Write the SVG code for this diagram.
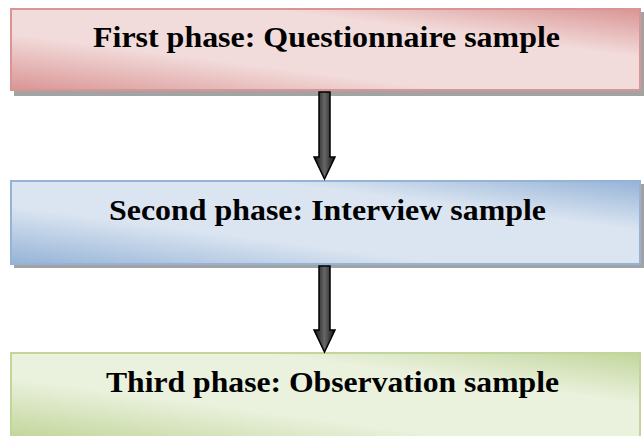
<svg xmlns="http://www.w3.org/2000/svg" width="644" height="436" viewBox="0 0 644 436">
<defs>
<linearGradient id="gPink" x1="0" y1="1" x2="1" y2="0">
<stop offset="0" stop-color="#d99594"/><stop offset="0.35" stop-color="#f2dcdb"/><stop offset="0.7" stop-color="#f2dcdb"/><stop offset="1" stop-color="#d99594"/>
</linearGradient>
<linearGradient id="gBlue" x1="0" y1="1" x2="1" y2="0">
<stop offset="0" stop-color="#95b3d7"/><stop offset="0.35" stop-color="#dbe5f1"/><stop offset="0.7" stop-color="#dbe5f1"/><stop offset="1" stop-color="#95b3d7"/>
</linearGradient>
<linearGradient id="gGreen" x1="0" y1="1" x2="1" y2="0">
<stop offset="0" stop-color="#c2d69b"/><stop offset="0.35" stop-color="#eaf1dd"/><stop offset="0.7" stop-color="#eaf1dd"/><stop offset="1" stop-color="#c2d69b"/>
</linearGradient>
<linearGradient id="gArrow" x1="0" y1="0" x2="1" y2="0">
<stop offset="0" stop-color="#111"/><stop offset="0.5" stop-color="#666"/><stop offset="1" stop-color="#111"/>
</linearGradient>
</defs>
<style>
.shadow{fill:#8c8c8c;opacity:0.8}
.label{font-family:"Liberation Serif","Times New Roman",serif;font-weight:bold;font-size:30px;fill:#000}
.arrow{fill:url(#gArrow);stroke:#000;stroke-width:1.5}
</style>
<g id="node1">
<rect class="shadow" x="14" y="12" width="630" height="84"/>
<rect x="11" y="9" width="629" height="81" fill="url(#gPink)" stroke="#d99594" stroke-width="2"/>
<text class="label" x="93" y="47" textLength="467" lengthAdjust="spacingAndGlyphs">First phase: Questionnaire sample</text>
</g>
<g id="node2">
<rect class="shadow" x="14" y="184" width="630" height="84"/>
<rect x="11" y="181" width="629" height="83" fill="url(#gBlue)" stroke="#95b3d7" stroke-width="2"/>
<text class="label" x="109" y="220" textLength="437" lengthAdjust="spacingAndGlyphs">Second phase: Interview sample</text>
</g>
<g id="node3">
<rect x="11" y="353" width="629" height="84" fill="url(#gGreen)" stroke="#c2d69b" stroke-width="2"/>
<text class="label" x="106" y="392" textLength="453" lengthAdjust="spacingAndGlyphs">Third phase: Observation sample</text>
</g>
<g id="connectors">
<path class="arrow" d="M319,92 H330 V157 H335 L324.5,179 L314,157 H319 Z"/>
<path class="arrow" d="M319,266 H330 V330 H335 L324.5,352 L314,330 H319 Z"/>
</g>
</svg>
